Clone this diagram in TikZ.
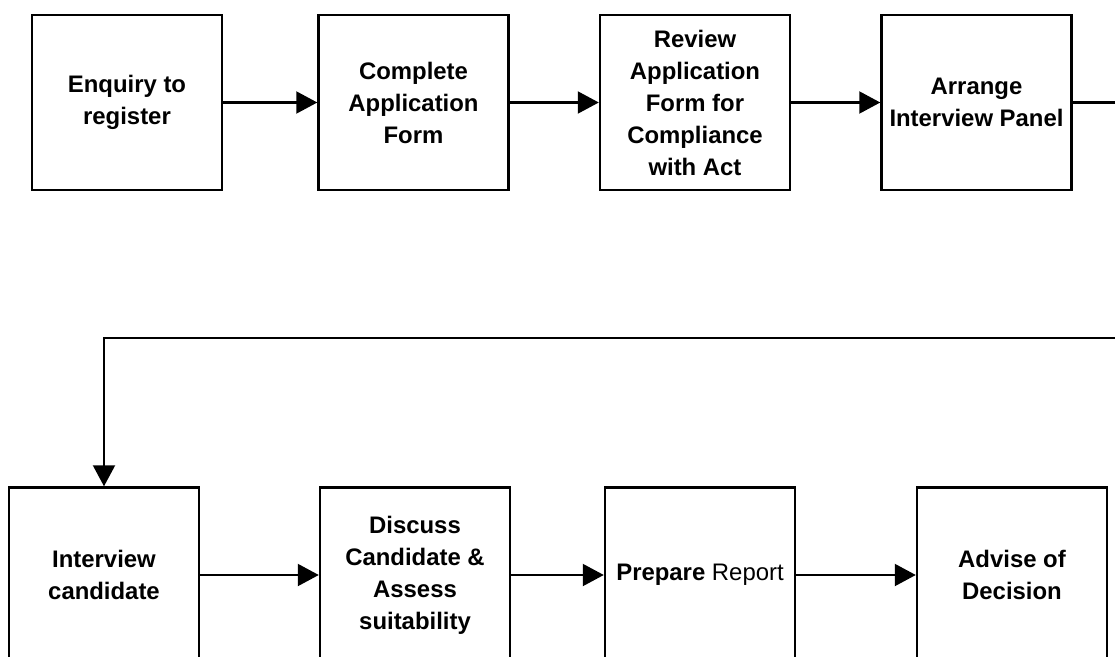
\documentclass[tikz,border=0pt]{standalone}
\usepackage{fontspec}
\setmainfont{Liberation Sans}
\usetikzlibrary{arrows.meta}

\begin{document}
\begin{tikzpicture}[
	box/.style={draw, line width=1.4pt, minimum width=3.8cm, minimum height=3.5cm, inner sep=0pt, align=center, font=\fontsize{13.6}{18.2}\selectfont\bfseries},
	flow/.style={-{Triangle[length=0.42cm,width=0.44cm]}, line width=1.2pt}
	]
	
	\useasboundingbox (0,0) rectangle (22.3,13.12);
	\clip (0,0) rectangle (22.3,13.12);
	
	\node[box] (e) at (2.54,11.07) {Enquiry to\\register};
	
	\node[box] (c) at (8.27,11.07) {Complete\\Application\\Form};
	
	\node[box] (r) at (13.9,11.07) {Review\\Application\\Form for\\Compliance\\with Act};
	
	\node[box] (a) at (19.53,11.07) {Arrange\\Interview Panel};
	
	\node[box] (i) at (2.08,1.62) {Interview\\candidate};
	
	\node[box] (d) at (8.3,1.62) {Discuss\\Candidate \&\\Assess\\suitability};
	
	\node[box] (p) at (14,1.62) {Prepare {\mdseries Report}};
	
	\node[box] (v) at (20.24,1.62) {Advise of\\Decision};
	
	\coordinate (out) at (22.6,11.07);
	
	\coordinate (back) at (22.6,6.36);
	
	\draw[flow] (e) -- (c);
	\draw[flow] (c) -- (r);
	\draw[flow] (r) -- (a);
	\draw[flow] (a.east) -- (out) -- (back) -| (i.north);
	\draw[flow] (i) -- (d);
	\draw[flow] (d) -- (p);
	\draw[flow] (p) -- (v);
	
\end{tikzpicture}
\end{document}
